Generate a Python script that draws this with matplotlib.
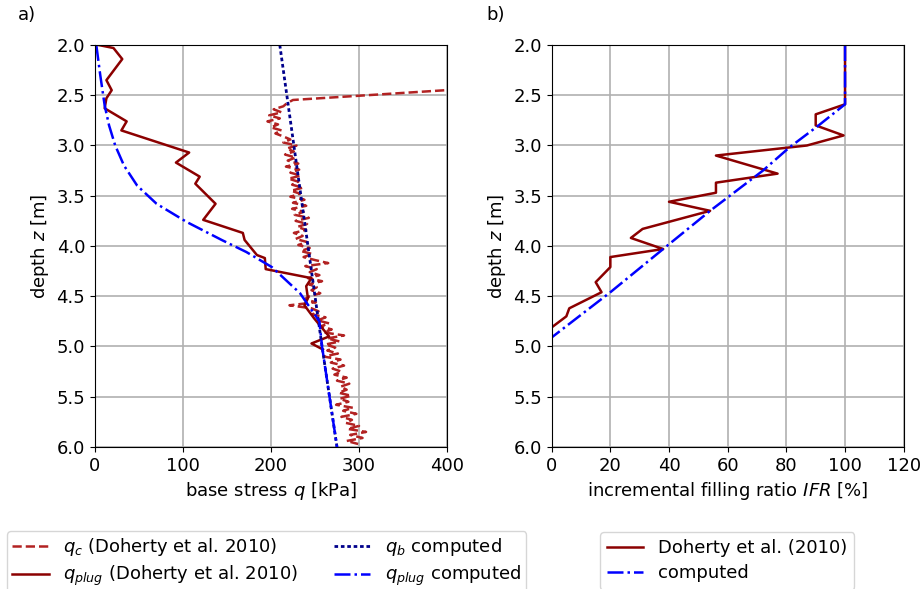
import numpy as np
import matplotlib

matplotlib.use("Agg")
import matplotlib.pyplot as plt  # noqa: E402

plt.rcParams["font.size"] = 13

# --- panel a: base stress ---------------------------------------------------
# cone resistance q_c (Doherty et al. 2010), regular CPT depth grid below the kink
qc_top_z = [2.40, 2.547]
qc_top_q = [487, 225]
qc_z = np.round(np.arange(2.58, 5.99, 0.03), 2)
qc_q = [218, 214, 203, 212, 198, 210, 196, 208, 200, 212,
        205, 214, 222, 214, 229, 218, 226, 216, 228, 219,
        231, 217, 232, 222, 234, 220, 231, 224, 236, 223,
        233, 222, 238, 225, 240, 224, 237, 227, 243, 228,
        241, 230, 240, 226, 236, 228, 241, 231, 244, 234,
        247, 237, 250, 265, 239, 252, 244, 255, 242, 258,
        243, 252, 246, 256, 244, 238, 251, 221, 246, 254,
        247, 262, 253, 266, 256, 269, 260, 283, 264, 278,
        262, 273, 264, 276, 260, 279, 268, 283, 270, 280,
        272, 286, 275, 289, 279, 286, 277, 291, 278, 288,
        274, 293, 282, 297, 280, 292, 285, 300, 287, 308,
        290, 304, 286, 299]

# measured plug stress (Doherty et al. 2010)
qplug_z = [2.00, 2.03, 2.14, 2.35, 2.45, 2.53, 2.63, 2.76, 2.85, 3.07,
           3.17, 3.31, 3.38, 3.58, 3.74, 3.87, 3.94, 4.09, 4.12, 4.23,
           4.32, 4.40, 4.52, 4.59, 4.72, 4.90, 4.97, 5.03]
qplug_q = [4, 21, 31, 13, 19, 13, 11, 36, 30, 107,
           92, 119, 114, 137, 123, 168, 170, 184, 193, 194,
           246, 240, 242, 238, 249, 266, 246, 259]

# computed base stress and computed plug stress
qb_z = [2.0, 3.0, 4.0, 5.0, 6.0]
qb_q = [210, 226, 242, 258, 275]
qpc_z = [2.00, 2.30, 2.60, 2.80, 3.00, 3.20, 3.40, 3.58, 3.76, 3.94,
         4.06, 4.21, 4.47, 4.75, 5.00, 6.00]
qpc_q = [1.5, 6, 11, 16, 23, 33, 48, 70, 104, 144,
         172, 201, 233, 255, 258, 275]

# --- panel b: incremental filling ratio -------------------------------------
ifr_z = [2.00, 2.59, 2.69, 2.80, 2.90, 3.00, 3.10, 3.28, 3.37, 3.47,
         3.56, 3.65, 3.83, 3.92, 4.03, 4.11, 4.21, 4.36, 4.46, 4.62,
         4.70, 4.81, 6.00]
ifr_v = [100, 100, 90, 90, 99.5, 87, 56, 77, 56, 56,
         40, 54, 31, 27, 38, 20, 20, 15, 17, 6,
         5, 0, 0]
ifrc_z = [2.00, 2.59, 2.80, 3.02, 3.25, 3.65, 4.03, 4.46, 4.91, 6.00]
ifrc_v = [100, 100, 91, 81, 72, 54, 38, 20, 0, 0]

DARK = "#8b0000"
FIRE = "#b22222"

fig = plt.figure(figsize=(9.23, 5.89), dpi=100)
ax1 = fig.add_axes([0.1029, 0.2411, 0.3814, 0.6825])
ax2 = fig.add_axes([0.5977, 0.2411, 0.3814, 0.6825])

l1, = ax1.plot(list(qc_top_q) + list(qc_q), list(qc_top_z) + list(qc_z),
               ls="--", color=FIRE, lw=1.8, label=r"$q_c$ (Doherty et al. 2010)")
l2, = ax1.plot(qplug_q, qplug_z, ls="-", color=DARK, lw=1.8,
               label=r"$q_{plug}$ (Doherty et al. 2010)")
l3, = ax1.plot(qb_q, qb_z, ls=(0, (1.3, 1.0)), color="darkblue", lw=2,
               label=r"$q_b$ computed")
l4, = ax1.plot(qpc_q, qpc_z, ls="-.", color="blue", lw=1.8,
               label=r"$q_{plug}$ computed")
ax1.set_xlim(0, 400)
ax1.set_ylim(6, 2)
ax1.set_xticks([0, 100, 200, 300, 400])
ax1.set_yticks(np.arange(2.0, 6.01, 0.5))
ax1.set_xlabel(r"base stress $q$ [kPa]")
ax1.set_ylabel(r"depth $z$ [m]")
ax1.grid(True, color="#b0b0b0", lw=1.2)

r1, = ax2.plot(ifr_v, ifr_z, ls="-", color=DARK, lw=1.8,
               label="Doherty et al. (2010)")
r2, = ax2.plot(ifrc_v, ifrc_z, ls="-.", color="blue", lw=1.8,
               label="computed")
ax2.set_xlim(0, 120)
ax2.set_ylim(6, 2)
ax2.set_xticks([0, 20, 40, 60, 80, 100, 120])
ax2.set_yticks(np.arange(2.0, 6.01, 0.5))
ax2.set_xlabel(r"incremental filling ratio $IFR$ [%]")
ax2.set_ylabel(r"depth $z$ [m]")
ax2.grid(True, color="#b0b0b0", lw=1.2)

fig.legend(handles=[l1, l2, l3, l4], ncol=2, loc="upper left",
           bbox_to_anchor=(7 / 923, 1 - 531 / 589), borderaxespad=0,
           labelspacing=0.3, borderpad=0.3)
fig.legend(handles=[r1, r2], loc="upper left",
           bbox_to_anchor=(600 / 923, 1 - 532 / 589), borderaxespad=0,
           labelspacing=0.4, borderpad=0.4)

fig.text(18 / 923, 1 - 15 / 589, "a)", ha="left", va="center")
fig.text(486 / 923, 1 - 15 / 589, "b)", ha="left", va="center")

fig.savefig("out.png", dpi=100)
